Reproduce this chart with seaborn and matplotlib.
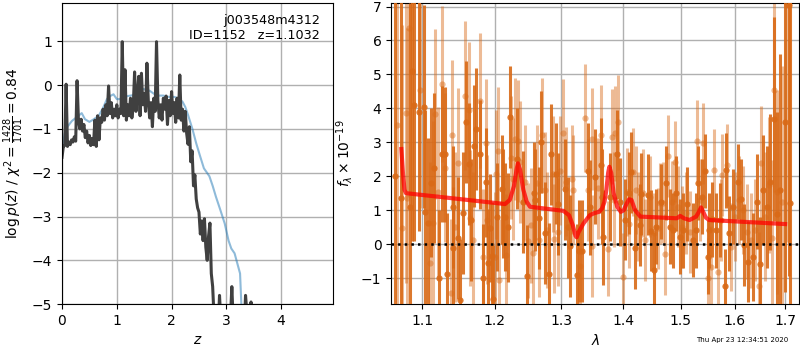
import numpy as np
import pandas as pd
import seaborn as sns
import matplotlib
matplotlib.use('agg')
import matplotlib.pyplot as plt
from matplotlib.ticker import NullFormatter, NullLocator

# --- left panel: log p(z) ---
z_pz = [0.000, 0.025, 0.050, 0.075, 0.100, 0.125, 0.150, 0.175, 0.200, 0.225,
        0.250, 0.275, 0.300, 0.325, 0.350, 0.375, 0.400, 0.425, 0.450, 0.475,
        0.500, 0.525, 0.550, 0.575, 0.600, 0.625, 0.650, 0.675, 0.700, 0.725,
        0.750, 0.775, 0.800, 0.825, 0.850, 0.875, 0.900, 0.925, 0.950, 0.975,
        1.000, 1.025, 1.050, 1.075, 1.100, 1.125, 1.150, 1.175, 1.200, 1.225,
        1.250, 1.275, 1.300, 1.325, 1.350, 1.375, 1.400, 1.425, 1.450, 1.475,
        1.500, 1.525, 1.550, 1.575, 1.600, 1.625, 1.650, 1.675, 1.700, 1.725,
        1.750, 1.775, 1.800, 1.825, 1.850, 1.875, 1.900, 1.925, 1.950, 1.975,
        2.000, 2.025, 2.050, 2.075, 2.100, 2.125, 2.150, 2.175, 2.200, 2.225,
        2.250, 2.275, 2.300, 2.325, 2.350, 2.375, 2.400, 2.425, 2.450, 2.475,
        2.500, 2.525, 2.550, 2.575, 2.600, 2.625, 2.650, 2.675, 2.700, 2.725,
        2.750, 2.775, 2.800, 2.825, 2.850, 2.875, 2.900, 2.925, 2.950, 2.975,
        3.000, 3.025, 3.050, 3.075, 3.100, 3.125, 3.150, 3.175, 3.200, 3.225,
        3.250, 3.275, 3.300, 3.325, 3.350, 3.375, 3.400, 3.425, 3.450, 3.475,
        3.500]
logpz = [-1.65, -1.40, -1.38, 0.02, -1.40, -1.30, -1.36, -1.25, -1.30, -1.18,
         -1.28, 0.10, -0.80, -1.00, -0.78, -1.05, -0.90, -1.20, -1.05, -1.32,
         -1.15, -1.38, -1.22, -1.36, -0.80, -1.40, -0.70, -1.25, -0.75, -0.85,
         -0.55, -0.80, -0.45, -0.70, -0.02, -0.65, -0.40, -0.75, -0.55, -0.70,
         -0.45, -0.75, -0.55, -0.65, 0.99, -0.70, 0.35, -0.80, -0.45, -0.70,
         -0.30, -0.75, -0.50, 0.30, -0.60, -0.25, 0.20, -0.70, 0.27, -0.45,
         -0.20, -0.60, 0.50, -0.35, -0.75, -0.40, -0.95, -0.30, -0.60, 0.99,
         -0.35, -0.75, -0.45, -0.80, -0.30, -0.55, -0.25, -0.90, -0.35, -0.70,
         -0.15, -0.65, -0.40, -0.85, -0.30, -0.75, 0.23, -0.80, -0.55, -1.05,
         -0.60, -1.10, -1.35, -0.95, -1.75, -1.50, -2.30, -2.05, -2.60, -2.80,
         -2.90, -3.40, -3.10, -3.55, -3.05, -3.70, -4.00, -3.45, -3.15, -4.30,
         -4.60, -5.30, -5.40, -5.20, -5.60, -4.80, -5.40, -5.70, -5.50, -5.80,
         -5.60, -5.90, -5.50, -5.30, -4.60, -5.40, -5.70, -5.50, -5.80, -5.60,
         -5.90, -5.70, -5.40, -5.60, -4.80, -5.20, -5.70, -5.40, -4.95, -5.60,
         -6.00]

z_prior = [0.00, 0.05, 0.10, 0.18, 0.28, 0.36, 0.42, 0.50, 0.58, 0.67, 0.75,
           0.82, 0.88, 0.94, 1.00, 1.05, 1.12, 1.20, 1.30, 1.38, 1.45, 1.52,
           1.60, 1.68, 1.76, 1.85, 1.95, 2.05, 2.12, 2.20, 2.25, 2.30, 2.38,
           2.45, 2.52, 2.59, 2.69, 2.75, 2.81, 2.89, 2.97, 3.04, 3.09, 3.15,
           3.25, 3.28, 3.35]
logp_prior = [-1.45, -1.10, -0.95, -0.82, -0.72, -0.64, -0.78, -0.84, -0.78,
              -0.70, -0.52, -0.32, -0.25, -0.21, -0.32, -0.32, -0.28, -0.25,
              -0.23, -0.20, -0.08, -0.10, -0.13, -0.20, -0.24, -0.24, -0.27,
              -0.27, -0.30, -0.38, -0.50, -0.68, -1.00, -1.33, -1.62, -1.90,
              -2.08, -2.30, -2.55, -2.85, -3.16, -3.55, -3.73, -3.84, -4.30,
              -5.20, -6.00]

# --- right panel: spectrum (two beams) + model ---
wave_a = [1.065, 1.073, 1.084, 1.087, 1.090, 1.096, 1.102, 1.104, 1.108, 1.112,
          1.116, 1.122, 1.127, 1.130, 1.133, 1.141, 1.142, 1.148, 1.151, 1.156,
          1.160, 1.163, 1.167, 1.171, 1.174, 1.179, 1.183, 1.187, 1.190, 1.193,
          1.196, 1.197, 1.203, 1.210, 1.212, 1.215, 1.219, 1.222, 1.232, 1.242,
          1.248, 1.258, 1.260, 1.265, 1.268, 1.275, 1.281, 1.284, 1.292, 1.294,
          1.306, 1.310, 1.314, 1.325, 1.327, 1.333, 1.342, 1.346, 1.354, 1.363,
          1.365, 1.367, 1.378, 1.390, 1.395, 1.403, 1.409, 1.413, 1.420, 1.429,
          1.431, 1.442, 1.448, 1.452, 1.456, 1.465, 1.474, 1.480, 1.486, 1.491,
          1.499, 1.505, 1.512, 1.522, 1.527, 1.532, 1.539, 1.545, 1.549, 1.552,
          1.558, 1.564, 1.573, 1.581, 1.584, 1.590, 1.597, 1.606, 1.612, 1.619,
          1.627, 1.636, 1.644, 1.649, 1.656, 1.663, 1.670, 1.678, 1.683, 1.690,
          1.699, 1.708, 1.711]
flux_a = [2.00, 1.36, 1.10, 5.10, 4.10, 3.90, 4.05, 0.95, 0.62, 1.81,
          2.24, -1.00, 2.65, 2.64, -0.89, 1.10, -0.11, 0.19, -1.65, 0.92,
          3.59, 2.36, 0.70, 2.89, 3.40, 2.64, -1.00, 1.82, -0.57, 0.47,
          -0.36, -1.62, 0.80, 1.61, 1.20, 0.80, 0.49, 3.74, 2.52, 1.24,
          -0.93, 1.50, 1.30, 0.78, 3.00, 0.33, -0.87, 2.64, 2.08, 1.18,
          1.61, 0.49, -0.06, -0.92, -0.20, -0.20, 2.16, 1.08, 1.98, 2.33,
          1.40, 0.20, 1.38, 2.64, 1.24, 0.72, 1.51, 2.11, -0.13, 0.56,
          1.47, 1.46, 0.40, -0.75, 0.51, 1.25, 1.80, 0.51, 0.41, 1.50,
          0.22, 0.41, 1.18, 0.12, 0.41, 1.80, 1.40, 2.15, -0.38, 0.41,
          0.73, 0.41, 0.71, -1.24, 2.17, 0.32, 1.10, 1.84, 1.32, -0.03,
          -0.52, -0.37, 1.25, -0.60, 1.60, 1.10, 1.84, 3.69, 0.90, 1.60,
          3.60, 7.06, 1.22]
err_a = [6.0, 6.0, 6.0, 5.0, 4.0, 3.5, 3.0, 3.0, 2.5, 2.2,
         2.2, 2.0, 2.0, 2.0, 1.8, 1.8, 1.8, 1.8, 1.8, 1.8,
         1.8, 1.8, 1.8, 1.8, 1.8, 1.6, 1.6, 1.6, 1.6, 1.6,
         1.6, 1.6, 1.6, 1.6, 1.6, 1.6, 1.6, 1.5, 1.5, 1.5,
         1.5, 1.5, 1.5, 1.5, 1.5, 1.5, 1.5, 1.5, 1.5, 1.5,
         1.5, 1.5, 1.5, 1.5, 1.5, 1.5, 1.4, 1.4, 1.4, 1.4,
         1.4, 1.4, 1.3, 1.3, 1.3, 1.2, 1.2, 1.2, 1.2, 1.2,
         1.2, 1.2, 1.2, 1.1, 1.1, 1.1, 1.1, 1.1, 1.1, 1.1,
         1.1, 1.1, 1.1, 1.1, 1.1, 1.1, 1.1, 1.1, 1.1, 1.1,
         1.1, 1.1, 1.1, 1.1, 1.1, 1.1, 1.1, 1.1, 1.2, 1.2,
         1.2, 1.3, 1.4, 1.4, 1.6, 1.8, 2.0, 3.0, 3.0, 4.0,
         5.0, 8.0, 8.0]

wave_b = [1.068, 1.074, 1.079, 1.080, 1.083, 1.097, 1.110, 1.115, 1.117, 1.121,
          1.126, 1.131, 1.139, 1.140, 1.144, 1.149, 1.158, 1.164, 1.165, 1.169,
          1.179, 1.183, 1.188, 1.189, 1.201, 1.202, 1.205, 1.206, 1.217, 1.224,
          1.227, 1.229, 1.234, 1.237, 1.244, 1.249, 1.254, 1.256, 1.262, 1.266,
          1.270, 1.274, 1.277, 1.287, 1.289, 1.295, 1.298, 1.302, 1.307, 1.316,
          1.319, 1.329, 1.338, 1.342, 1.348, 1.349, 1.359, 1.364, 1.374, 1.381,
          1.384, 1.386, 1.392, 1.400, 1.406, 1.410, 1.417, 1.422, 1.425, 1.434,
          1.437, 1.446, 1.452, 1.460, 1.464, 1.469, 1.472, 1.477, 1.484, 1.490,
          1.496, 1.502, 1.510, 1.517, 1.529, 1.536, 1.541, 1.550, 1.556, 1.561,
          1.568, 1.574, 1.577, 1.585, 1.594, 1.601, 1.609, 1.616, 1.624, 1.631,
          1.640, 1.647, 1.652, 1.660, 1.667, 1.673, 1.677, 1.684, 1.693, 1.703]
flux_b = [3.50, 0.47, 3.85, 1.36, 6.38, 4.55, -0.57, 0.63, 3.83, 1.53,
          4.72, 2.25, -1.45, 3.22, 0.50, 2.40, 4.37, 3.96, 0.76, 0.12,
          4.23, -0.37, 2.97, 0.72, -0.37, 2.06, 2.73, -1.05, -0.33, 2.55,
          1.93, 3.09, 3.03, 2.43, 1.82, 0.10, 0.55, -0.25, 1.81, 0.13,
          3.20, 1.60, 0.41, 2.06, 0.16, 0.36, 2.16, 3.27, 1.84, 1.91,
          1.60, -0.65, 3.71, 1.60, -0.06, 3.09, 1.64, 3.20, -0.14, 3.16,
          1.30, 3.27, 3.59, -0.96, 1.54, 0.60, 2.13, 1.60, 0.81, 1.50,
          0.12, 1.40, 0.32, 0.46, 1.20, 1.22, -0.30, 2.60, 1.25, 2.43,
          1.10, 0.51, 0.91, 0.36, 3.05, 1.30, 2.97, -1.01, -0.67, 2.19,
          -0.82, 0.71, 2.04, 2.33, -0.08, 0.81, 1.30, 1.00, 0.36, 0.12,
          0.41, -1.24, 2.38, 0.81, 1.74, 0.17, 4.53, 1.54, 1.25, 7.06]
err_b = [6.0, 6.0, 5.0, 5.0, 5.0, 3.5, 3.0, 3.0, 2.5, 2.5,
         2.3, 2.2, 2.2, 2.2, 2.2, 2.2, 2.2, 2.0, 2.0, 2.0,
         2.0, 2.0, 1.9, 1.9, 1.9, 1.9, 1.9, 1.8, 1.8, 1.8,
         1.8, 1.8, 1.8, 1.8, 1.7, 1.7, 1.7, 1.7, 1.7, 1.7,
         1.7, 1.7, 1.7, 1.7, 1.6, 1.6, 1.6, 1.6, 1.6, 1.6,
         1.6, 1.6, 1.6, 1.5, 1.5, 1.5, 1.5, 1.5, 1.4, 1.4,
         1.4, 1.4, 1.4, 1.3, 1.3, 1.3, 1.3, 1.3, 1.3, 1.3,
         1.2, 1.2, 1.2, 1.2, 1.2, 1.2, 1.2, 1.2, 1.2, 1.2,
         1.2, 1.2, 1.2, 1.2, 1.2, 1.2, 1.2, 1.2, 1.2, 1.2,
         1.2, 1.2, 1.2, 1.2, 1.3, 1.3, 1.3, 1.3, 1.4, 1.4,
         1.5, 1.6, 1.7, 1.9, 2.0, 2.3, 3.0, 3.0, 4.0, 7.0]

wave_model = [1.073, 1.075, 1.077, 1.079, 1.215, 1.222, 1.228, 1.232, 1.234,
              1.237, 1.242, 1.247, 1.252, 1.303, 1.312, 1.318, 1.322, 1.324,
              1.327, 1.335, 1.345, 1.352, 1.360, 1.365, 1.369, 1.372, 1.375,
              1.377, 1.380, 1.384, 1.390, 1.396, 1.401, 1.406, 1.410, 1.414,
              1.420, 1.429, 1.493, 1.499, 1.506, 1.516, 1.528, 1.533, 1.537,
              1.541, 1.546, 1.552, 1.700]
flux_model = [2.80, 2.10, 1.60, 1.50, 1.18, 1.30, 1.70, 2.20, 2.38,
              2.20, 1.60, 1.25, 1.10, 0.98, 0.85, 0.55, 0.25, 0.20,
              0.35, 0.61, 0.85, 0.91, 0.95, 1.05, 1.25, 1.60, 2.10,
              2.28, 2.10, 1.50, 1.10, 0.95, 1.00, 1.20, 1.32, 1.30,
              1.00, 0.81, 0.76, 0.83, 0.76, 0.71, 0.81, 0.95, 1.08,
              0.95, 0.78, 0.71, 0.59]

obj_name = 'j003548m4312'
obj_id = 1152
z_best = 1.1032
chi2_num, chi2_den = 1428, 1701
stamp = 'Thu Apr 23 12:34:51 2020'

dark_orange = '#d96a17'

fig = plt.figure(figsize=(8, 3.5), dpi=100)
ax1 = fig.add_axes([0.0775, 0.131, 0.339, 0.860])
ax2 = fig.add_axes([0.489, 0.131, 0.510, 0.860])

# log p(z)
sns.lineplot(x=z_prior, y=logp_prior, ax=ax1, color='tab:blue', alpha=0.5,
             lw=1.5, sort=False, estimator=None)
sns.lineplot(x=z_pz, y=logpz, ax=ax1, color='0.25', lw=2.2, sort=False,
             estimator=None)
ax1.set_xlim(0, 4.95)
ax1.set_ylim(-5, 1.87)
ax1.set_xticks([0, 1, 2, 3, 4])
ax1.set_yticks([-5, -4, -3, -2, -1, 0, 1])
ax1.grid(True, color='#b0b0b0', lw=1)
ax1.set_axisbelow(True)
ax1.set_xlabel(r'$z$')
ax1.set_ylabel(r'$\log p(z)$' + ' / ' +
               r'$\chi^2=\frac{%d}{%d}=%.2f$' % (chi2_num, chi2_den,
                                                   chi2_num / chi2_den))
ax1.text(0.95, 0.965, '%s\nID=%d   z=%.4f' % (obj_name, obj_id, z_best),
         transform=ax1.transAxes, ha='right', va='top', fontsize=9.2)

# spectrum
ax2.errorbar(wave_b, flux_b, yerr=err_b, fmt='o', color=dark_orange, alpha=0.45,
             ms=4.5, elinewidth=2.2, mec='none', zorder=2)
ax2.errorbar(wave_a, flux_a, yerr=err_a, fmt='o', color=dark_orange, alpha=0.9,
             ms=4.5, elinewidth=2.2, mec='none', zorder=3)
sns.lineplot(x=wave_model, y=flux_model, ax=ax2, color='red', alpha=0.75,
             lw=3, sort=False, estimator=None, zorder=5)
ax2.axhline(0, color='k', ls=':', lw=1.8, zorder=6)
ax2.set_xscale('log')
ax2.set_xlim(1.06, 1.729)
ax2.set_ylim(-1.77, 7.1)
lam_ticks = [1.1, 1.2, 1.3, 1.4, 1.5, 1.6, 1.7]
ax2.xaxis.set_minor_locator(NullLocator())
ax2.xaxis.set_minor_formatter(NullFormatter())
ax2.set_xticks(lam_ticks)
ax2.set_xticklabels([f'{t:.1f}' for t in lam_ticks])
ax2.set_yticks([-1, 0, 1, 2, 3, 4, 5, 6, 7])
ax2.grid(True, color='#b0b0b0', lw=1)
ax2.set_axisbelow(True)
ax2.set_xlabel(r'$\lambda$')
ax2.set_ylabel(r'$f_\lambda\times10^{-19}$')

fig.text(0.985, 0.028, stamp, ha='right', va='center', fontsize=5)

fig.savefig('out.png', dpi=100)
